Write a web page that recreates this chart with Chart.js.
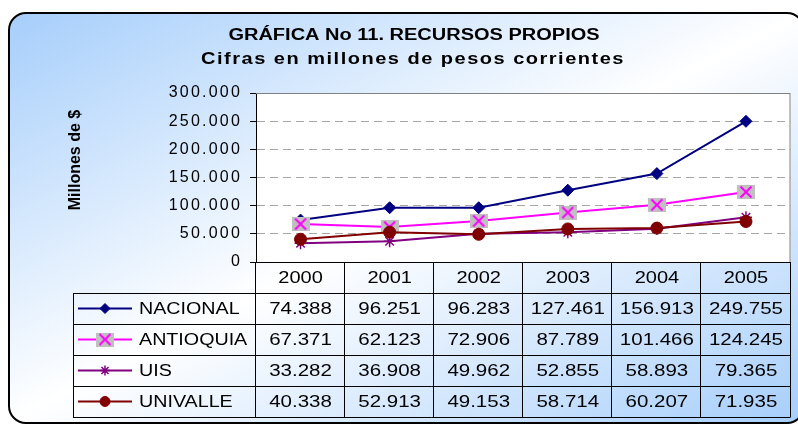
<!DOCTYPE html>
<html lang="es">
<head>
<meta charset="utf-8">
<title>Gráfica No 11. Recursos propios</title>
<script src="https://cdn.jsdelivr.net/npm/chart.js@4/dist/chart.umd.min.js"></script>
<style>
  html, body { margin: 0; padding: 0; background: #fff; overflow: hidden; }
  #frame {
    position: absolute; left: 8px; top: 12px; width: 793px; height: 408px;
    border: 2px solid #000; border-radius: 18px;
    background: linear-gradient(to bottom right, #a6cefb 0%, #ffffff 50%, #a6cefb 100%);
  }
  #wrap { position: absolute; left: 0; top: 0; width: 798px; height: 426px; }
</style>
</head>
<body>
<div id="frame"></div>
<div id="wrap"><canvas id="recursosChart" width="798" height="426"></canvas></div>
<script>
/** Gráfica No 11 — recursos propios, millones de pesos corrientes */

const years = ['2000', '2001', '2002', '2003', '2004', '2005'];
const nacional = [74388, 96251, 96283, 127461, 156913, 249755];
const antioquia = [67371, 62123, 72906, 87789, 101466, 124245];
const uis = [33282, 36908, 49962, 52855, 58893, 79365];
const univalle = [40338, 52913, 49153, 58714, 60207, 71935];
const yTickValues = [0, 50000, 100000, 150000, 200000, 250000, 300000];

const seriesNames = ['NACIONAL', 'ANTIOQUIA', 'UIS', 'UNIVALLE'];
const seriesValues = [nacional, antioquia, uis, univalle];
const seriesColors = ['#000080', '#ff00ff', '#800080', '#800000'];

const FONT = '"Liberation Sans", Arial, sans-serif';
const fmt = v => String(v).replace(/\B(?=(\d{3})+(?!\d))/g, '.');

// grey box with magenta cross, like the Excel marker
const markerAntioquia = (() => {
  const c = document.createElement('canvas');
  c.width = 18; c.height = 14;
  const g = c.getContext('2d');
  g.fillStyle = '#c0c0c0';
  g.fillRect(0, 0, 18, 14);
  g.strokeStyle = '#ff00ff';
  g.lineWidth = 2;
  g.beginPath();
  g.moveTo(3.5, 1.5); g.lineTo(14.5, 12.5);
  g.moveTo(14.5, 1.5); g.lineTo(3.5, 12.5);
  g.stroke();
  return c;
})();
const pointStyles = ['rectRot', markerAntioquia, 'star', 'circle'];

function drawMarker(ctx, i, x, y, radius) {
  ctx.fillStyle = seriesColors[i];
  ctx.strokeStyle = seriesColors[i];
  ctx.lineWidth = i === 2 ? 1.5 : 1;
  Chart.helpers.drawPoint(ctx, { pointStyle: pointStyles[i], radius, rotation: 0, borderWidth: ctx.lineWidth }, x, y);
}

// Excel output has wide glyphs: stretch text horizontally
function wideText(ctx, text, x, y, align, sx = 1.25) {
  ctx.save();
  ctx.translate(x, y);
  ctx.scale(sx, 1);
  ctx.textAlign = align;
  ctx.fillText(text, 0, 0);
  ctx.restore();
}

const tablePlugin = {
  id: 'dataTable',
  beforeDraw(chart) {
    const { ctx, chartArea: a } = chart;
    ctx.fillStyle = '#fff';
    ctx.fillRect(a.left, a.top, a.right - a.left, a.bottom - a.top);
    ctx.letterSpacing = '2.2px';
  },
  afterDraw(chart) {
    const { ctx, chartArea: a, scales: { x } } = chart;
    const colW = (a.right - a.left) / years.length;
    const rowH = 31;
    const top = a.bottom;
    const legendLeft = 73;
    const bottom = top + rowH * (seriesNames.length + 1);

    ctx.save();
    ctx.letterSpacing = '0px';
    // plot frame (top and right)
    ctx.strokeStyle = '#808080';
    ctx.lineWidth = 1;
    ctx.beginPath();
    ctx.moveTo(a.left, a.top + 0.5);
    ctx.lineTo(a.right - 0.5, a.top + 0.5);
    ctx.lineTo(a.right - 0.5, a.bottom);
    ctx.stroke();

    // table lines
    ctx.strokeStyle = '#000';
    ctx.beginPath();
    for (let r = 0; r <= seriesNames.length + 1; r++) {
      const y = Math.round(top + r * rowH) + 0.5;
      ctx.moveTo(r === 0 ? a.left : legendLeft, y);
      ctx.lineTo(a.right, y);
    }
    for (let c = 0; c <= years.length; c++) {
      const xx = Math.round(a.left + c * colW) - 0.5;
      ctx.moveTo(xx, top);
      ctx.lineTo(xx, bottom);
    }
    ctx.moveTo(legendLeft + 0.5, top + rowH);
    ctx.lineTo(legendLeft + 0.5, bottom);
    ctx.stroke();

    // table text
    ctx.fillStyle = '#000';
    ctx.font = `16px ${FONT}`;
    ctx.textBaseline = 'middle';
    years.forEach((yr, i) => wideText(ctx, yr, x.getPixelForValue(i), top + rowH / 2 + 1, 'center'));
    seriesValues.forEach((vals, s) => {
      const cy = top + rowH * (s + 1.5) + 1;
      vals.forEach((v, i) => wideText(ctx, fmt(v), x.getPixelForValue(i), cy, 'center', 1.28));
    });

    // legend keys
    seriesNames.forEach((name, s) => {
      const cy = top + rowH * (s + 1.5);
      ctx.strokeStyle = seriesColors[s];
      ctx.lineWidth = 2;
      ctx.beginPath();
      ctx.moveTo(legendLeft + 5, cy);
      ctx.lineTo(legendLeft + 59, cy);
      ctx.stroke();
      drawMarker(ctx, s, legendLeft + 32, cy, 5);
      ctx.fillStyle = '#000';
      wideText(ctx, name, legendLeft + 66, cy + 1, 'left', 1.23);
    });

    // titles
    ctx.textBaseline = 'alphabetic';
    ctx.font = `bold 16px ${FONT}`;
    wideText(ctx, 'GRÁFICA No 11. RECURSOS PROPIOS', 414, 40, 'center');
    ctx.letterSpacing = '1.2px';
    wideText(ctx, 'Cifras en millones de pesos corrientes', 413, 64, 'center');
    ctx.letterSpacing = '0px';

    // y axis title
    ctx.translate(80, 160);
    ctx.rotate(-Math.PI / 2);
    ctx.font = `bold 16px ${FONT}`;
    ctx.textAlign = 'center';
    ctx.fillText('Millones de $', 0, 0);
    ctx.restore();
  }
};

new Chart(document.getElementById('recursosChart'), {
  type: 'line',
  data: {
    labels: years,
    datasets: seriesNames.map((name, i) => ({
      label: name,
      data: seriesValues[i],
      borderColor: seriesColors[i],
      backgroundColor: seriesColors[i],
      borderWidth: 2,
      pointStyle: pointStyles[i],
      pointRadius: 6,
      pointBorderWidth: i === 2 ? 1.5 : 1,
      order: seriesNames.length - 1 - i,
      tension: 0
    }))
  },
  options: {
    responsive: false,
    animation: false,
    layout: { padding: { top: 93, right: 2, bottom: 164, left: 0 } },
    plugins: { legend: { display: false }, title: { display: false }, tooltip: { enabled: false } },
    scales: {
      x: { display: false, offset: true },
      y: {
        min: 0,
        max: 300000,
        afterFit: s => { s.width = 256; },
        afterBuildTicks: s => { s.ticks = yTickValues.map(v => ({ value: v })); },
        ticks: { color: '#000', font: { family: FONT, size: 16 }, padding: 8, callback: v => fmt(v) },
        grid: { color: '#a6a6a6', tickColor: '#000', tickLength: 6, tickBorderDash: [] },
        border: { color: '#000', width: 1, dash: [8, 5] }
      }
    }
  },
  plugins: [tablePlugin]
});
</script>
</body>
</html>
